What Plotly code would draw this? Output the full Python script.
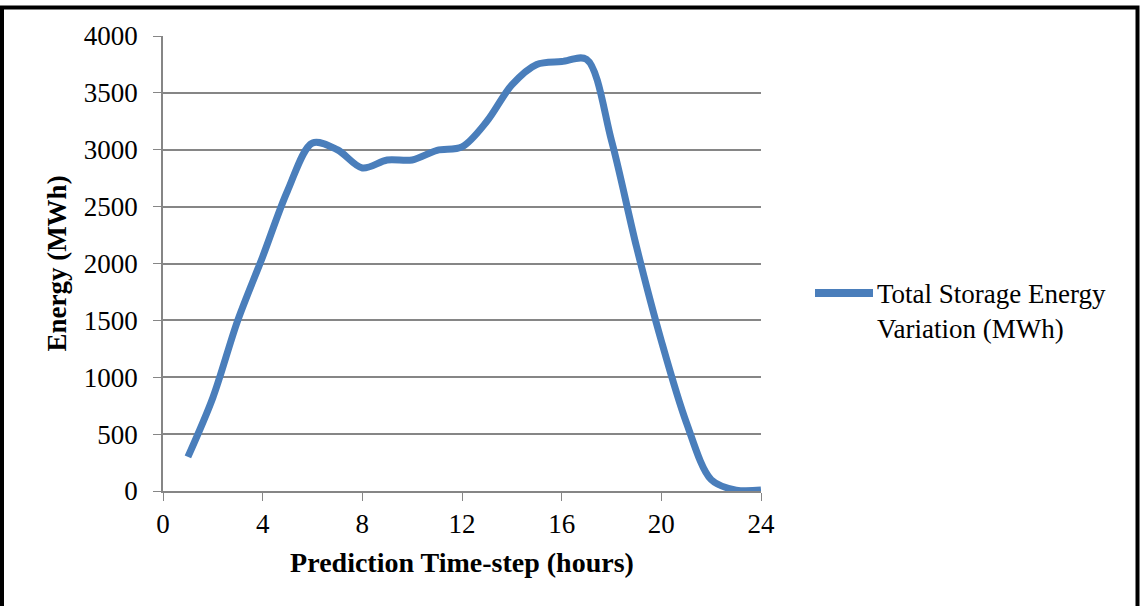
import plotly.graph_objects as go

hours = list(range(1, 25))
energy = [300, 820, 1500, 2060, 2640, 3060, 3000, 2840, 2910, 2910, 2995, 3025,
          3250, 3570, 3750, 3775, 3795, 3080, 2150, 1320, 605, 100, 8, 8]
series_name = "Total Storage Energy<br>Variation (MWh)"
x_ticks = [0, 4, 8, 12, 16, 20, 24]
y_ticks = [0, 500, 1000, 1500, 2000, 2500, 3000, 3500, 4000]

W, H = 1141, 606
L, R, T, B = 163, 380, 36, 115
PW, PH = W - L - R, H - T - B

def px_x(p):
    return (p - L) / PW

def px_y(p):
    return (H - B - p) / PH

FONT = "Liberation Serif"
BLUE = "#4a7ebb"
GRID = "#868686"

fig = go.Figure()
fig.add_trace(go.Scatter(x=hours, y=energy, mode="lines",
                         line=dict(color=BLUE, width=7, shape="spline", smoothing=0.9),
                         showlegend=False, name="Total Storage Energy Variation (MWh)"))

fig.update_layout(
    width=W, height=H,
    margin=dict(l=L, r=R, t=T, b=B),
    paper_bgcolor="white", plot_bgcolor="white",
    font=dict(family=FONT, size=27, color="black"),
    xaxis=dict(range=[0, 24], tickvals=x_ticks, ticks="outside", ticklen=8,
               tickcolor=GRID, showgrid=False, zeroline=False,
               showline=True, linecolor=GRID, linewidth=1.5,
               tickfont=dict(family=FONT, size=27),
               title=dict(text="<b>Prediction Time-step (hours)</b>", standoff=14,
                          font=dict(family=FONT, size=28))),
    yaxis=dict(range=[0, 4000], tickvals=y_ticks, ticks="outside", ticklen=8,
               tickcolor=GRID, showgrid=True, gridcolor=GRID, gridwidth=1.5,
               zeroline=False, showline=True, linecolor=GRID, linewidth=1.5,
               ticklabelstandoff=10,
               tickfont=dict(family=FONT, size=27),
               title=dict(text="<b>Energy (MWh)</b>", standoff=9,
                          font=dict(family=FONT, size=27))),
    shapes=[
        dict(type="line", xref="paper", yref="paper",
             x0=px_x(815), x1=px_x(873), y0=px_y(293), y1=px_y(293),
             line=dict(color=BLUE, width=8)),
        dict(type="rect", xref="paper", yref="paper",
             x0=px_x(2), x1=px_x(1137.5), y0=px_y(7.5), y1=px_y(630),
             line=dict(color="black", width=4), fillcolor="rgba(0,0,0,0)"),
    ],
    annotations=[
        dict(xref="paper", yref="paper", x=px_x(875), y=px_y(277),
             xanchor="left", yanchor="top", align="left", showarrow=False,
             text=series_name, font=dict(family=FONT, size=27, color="black")),
    ],
)

fig.write_html("out.html")
